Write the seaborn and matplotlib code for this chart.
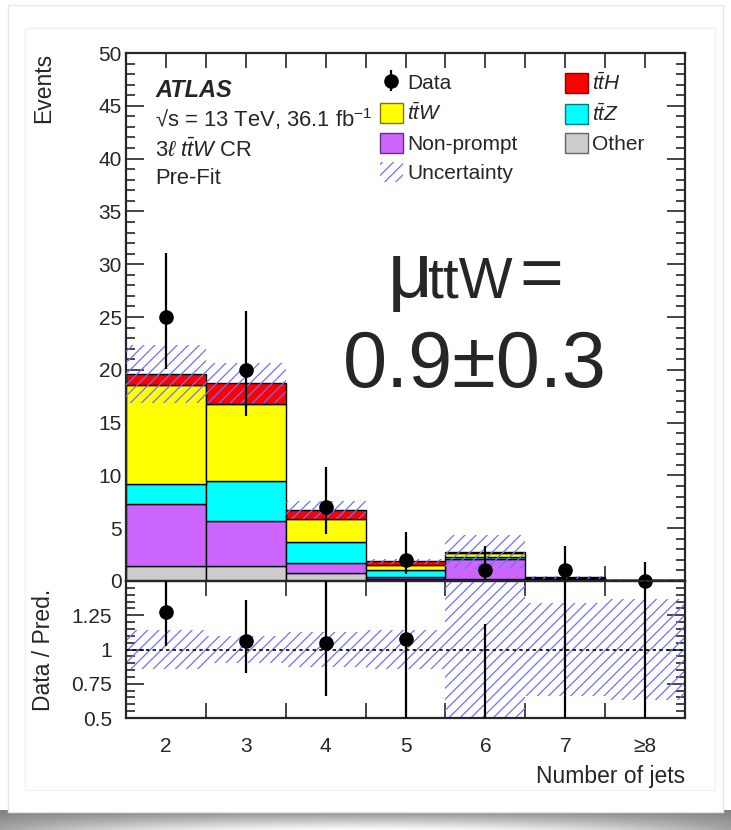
import numpy as np
import pandas as pd
import matplotlib
matplotlib.use("Agg")
import matplotlib.pyplot as plt
import seaborn as sns
from matplotlib.patches import Patch, Rectangle
from matplotlib.ticker import MultipleLocator

# ---------------- data ----------------
bin_labels = ["2", "3", "4", "5", "6", "7", "≥8"]
other = [1.45, 1.45, 0.73, 0.19, 0.19, 0.08, 0.04]
nonprompt = [5.81, 4.23, 1.01, 0.22, 1.92, 0.10, 0.03]
ttz = [1.96, 3.79, 1.95, 0.63, 0.16, 0.06, 0.02]
ttw = [9.34, 7.33, 2.21, 0.46, 0.35, 0.08, 0.02]
tth = [1.04, 1.98, 0.79, 0.36, 0.16, 0.03, 0.01]
pred_unc = [2.75, 1.90, 0.85, 0.26, 1.60, 0.12, 0.044]
data = [25, 20, 7, 2, 1, 1, 0]
data_err_lo = [4.97, 4.42, 2.58, 1.29, 0.83, 0.83, 0.0]
data_err_hi = [6.06, 5.53, 3.77, 2.64, 2.30, 2.30, 1.84]

processes = ["ttH", "ttW", "ttZ", "Non-prompt", "Other"]  # top -> bottom of stack
colors = {"ttH": "#ff0000", "ttW": "#ffff00", "ttZ": "#00ffff",
          "Non-prompt": "#cc66ff", "Other": "#cccccc"}
edge_colors = {"ttH": "#8a0000", "ttW": "#7a7a00", "ttZ": "#007a7a",
               "Non-prompt": "#6a2a8a", "Other": "#666666"}
hatch_color = "#7070ff"

nb = len(bin_labels)
centers = np.arange(nb)
edges = [i - 0.5 for i in range(nb + 1)]

rows = []
for name, vals in zip(processes, [tth, ttw, ttz, nonprompt, other]):
    for i, v in enumerate(vals):
        rows.append({"bin": float(i), "events": v, "process": name})
df = pd.DataFrame(rows)

total = np.array(other) + np.array(nonprompt) + np.array(ttz) + np.array(ttw) + np.array(tth)
unc = np.array(pred_unc)
d = np.array(data, dtype=float)
lo = np.array(data_err_lo)
hi = np.array(data_err_hi)

# ---------------- style ----------------
sns.set_theme(style="ticks")
plt.rcParams["font.family"] = ["Liberation Sans", "DejaVu Sans"]
plt.rcParams["mathtext.fontset"] = "custom"
plt.rcParams["mathtext.rm"] = "Liberation Sans"
plt.rcParams["mathtext.it"] = "Liberation Sans:italic"
plt.rcParams["mathtext.bf"] = "Liberation Sans:bold"
plt.rcParams["hatch.linewidth"] = 0.9
plt.rcParams["axes.linewidth"] = 1.6

W, H = 731, 830
fig = plt.figure(figsize=(W / 100, H / 100), dpi=100)
fig.patch.set_facecolor("white")

def fx(px):
    return px / W

def fy(py):
    return 1 - py / H

# card + shadow
shadow_ax = fig.add_axes([0, 0, 1, 20 / H], zorder=-10)
grad = np.linspace(0, 1, 50)[:, None] * np.ones((1, 200))
xx = np.linspace(-1, 1, 200)[None, :]
shade = 0.5 + 0.5 * grad * (1 - 0.7 * xx ** 2)
shadow_ax.imshow(np.dstack([shade] * 3), aspect="auto", extent=[0, 1, 0, 1], origin="upper")
shadow_ax.axis("off")
fig.add_artist(Rectangle((fx(8), fy(812)), fx(715), (812 - 5) / H, transform=fig.transFigure,
                         facecolor="white", edgecolor="#e6e6e6", lw=1, zorder=-5))
fig.add_artist(Rectangle((fx(25), fy(790)), fx(690), (790 - 28) / H, transform=fig.transFigure,
                         facecolor="white", edgecolor="#f2f2f2", lw=1, zorder=-4))

left, right = fx(126), fx(685)
ax = fig.add_axes([left, fy(581), right - left, fy(53) - fy(581)])
axr = fig.add_axes([left, fy(718), right - left, fy(581) - fy(718)], sharex=ax)
for a in (ax, axr):
    a.set_facecolor("none")

# ---------------- main panel ----------------
sns.histplot(data=df, x="bin", weights="events", hue="process", hue_order=processes,
             multiple="stack", bins=edges, palette=colors, edgecolor="black",
             linewidth=1.0, alpha=1, legend=False, ax=ax)
ax.bar(centers, 2 * unc, bottom=total - unc, width=1.0, facecolor="none",
       edgecolor=hatch_color, hatch="///", lw=0, zorder=3)
cont = ax.errorbar(centers, d, yerr=[lo, hi], fmt="o", color="black", ms=9.5,
                   elinewidth=1.6, capsize=0, zorder=5, clip_on=False)

ax.set_xlim(-0.5, nb - 0.5)
ax.set_ylim(0, 50)
ax.yaxis.set_major_locator(MultipleLocator(5))
ax.yaxis.set_minor_locator(MultipleLocator(1))
ax.set_xticks(edges[1:-1])
ax.tick_params(axis="x", which="both", labelbottom=False, direction="in",
               top=True, bottom=True, length=11, width=1.2)
ax.tick_params(axis="y", which="major", direction="in", left=True, right=True,
               length=13, width=1.2, labelsize=15, pad=3)
ax.tick_params(axis="y", which="minor", direction="in", left=True, right=True,
               length=6.5, width=1.2)
ax.set_xlabel("")
ax.set_ylabel("Events", fontsize=16.5, ha="right")
ax.yaxis.set_label_coords(-0.127, 1.0)

# labels text block
tx = fx(155)
fig.text(tx, fy(97), "ATLAS", fontsize=17, fontweight="bold", fontstyle="italic")
fig.text(tx, fy(127), r"√s = 13 TeV, 36.1 fb$^{-1}$", fontsize=15.8)
fig.text(tx, fy(156), r"3$\ell$ $t\bar{t}W$ CR", fontsize=15.8)
fig.text(tx, fy(184), "Pre-Fit", fontsize=15.8)

# big text: mu_ttW =
fig.text(fx(388), fy(297), "μ", fontsize=56, ha="left", va="baseline")
fig.text(fx(427), fy(298), "ttW", fontsize=41, ha="left", va="baseline")
fig.text(fx(519), fy(297), "=", fontsize=54, ha="left", va="baseline")
fig.text(fx(475), fy(387), "0.9±0.3", fontsize=57, ha="center", va="baseline")

# legends
h_unc = Patch(facecolor="none", edgecolor=hatch_color, hatch="///", lw=0)
h = {p: Patch(facecolor=colors[p], edgecolor=edge_colors[p], lw=1) for p in processes}
leg_kw = dict(frameon=False, fontsize=15, handlelength=1.1, handleheight=1.1,
              handletextpad=0.2, labelspacing=0.42, borderpad=0, borderaxespad=0,
              loc="upper left", bbox_transform=fig.transFigure)
leg1 = ax.legend([cont, h["ttW"], h["Non-prompt"], h_unc],
                 ["Data", r"$t\bar{t}W$", "Non-prompt", "Uncertainty"],
                 bbox_to_anchor=(fx(380), fy(72)), **leg_kw)
ax.add_artist(leg1)
ax.legend([h["ttH"], h["ttZ"], h["Other"]],
          [r"$t\bar{t}H$", r"$t\bar{t}Z$", "Other"],
          bbox_to_anchor=(fx(565), fy(72)), **leg_kw)

# ---------------- ratio panel ----------------
rel = unc / total
axr.bar(centers, 2 * rel, bottom=1 - rel, width=1.0, facecolor="none",
        edgecolor=hatch_color, hatch="///", lw=0, zorder=2)
axr.axhline(1, color="black", lw=1.2, ls=(0, (2, 2)), zorder=3)
axr.errorbar(centers, d / total, yerr=[lo / total, hi / total], fmt="o", color="black",
             ms=9.5, elinewidth=1.6, capsize=0, zorder=5)
axr.set_ylim(0.5, 1.5)
axr.set_yticks([0.5, 0.75, 1.0, 1.25])
axr.set_yticklabels(["0.5", "0.75", "1", "1.25"])
axr.yaxis.set_minor_locator(MultipleLocator(0.05))
axr.tick_params(axis="y", which="major", direction="in", left=True, right=True,
                length=13, width=1.2, labelsize=15, pad=10)
axr.tick_params(axis="y", which="minor", direction="in", left=True, right=True,
                length=6.5, width=1.2)
axr.set_xticks(centers)
axr.set_xticklabels(bin_labels)
axr.set_xticks(edges[1:-1], minor=True)
axr.tick_params(axis="x", which="major", length=0, labelsize=15, pad=14)
axr.tick_params(axis="x", which="minor", direction="in", top=True, bottom=True,
                length=11, width=1.2)
axr.set_xlabel("Number of jets", fontsize=16.5, ha="right")
axr.xaxis.set_label_coords(1.0, -0.345)
axr.set_ylabel("Data / Pred.", fontsize=16.5)
axr.yaxis.set_label_coords(-0.127, 0.5)
axr.set_xlim(-0.5, nb - 0.5)

fig.savefig("out.png", dpi=100, facecolor="white")
